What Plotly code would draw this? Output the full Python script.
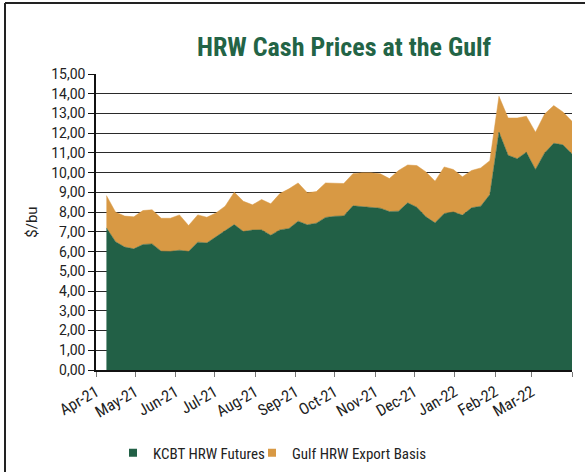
import pandas as pd
import plotly.graph_objects as go

# ---- data ----
week_start = "2021-04-09"
n_weeks = 52
futures = [7.20, 6.50, 6.23, 6.14, 6.36, 6.39, 6.02, 6.01, 6.07, 6.01, 6.48, 6.44, 6.75,
           7.07, 7.37, 7.02, 7.09, 7.10, 6.83, 7.10, 7.17, 7.54, 7.36, 7.44, 7.73, 7.79,
           7.81, 8.32, 8.28, 8.25, 8.20, 8.03, 8.05, 8.47, 8.25, 7.76, 7.46, 7.93, 8.01,
           7.85, 8.22, 8.30, 8.89, 12.06, 10.88, 10.71, 11.03, 10.16, 11.00, 11.49, 11.41, 10.95]
basis = [1.64, 1.50, 1.57, 1.62, 1.72, 1.73, 1.67, 1.68, 1.79, 1.31, 1.38, 1.30, 1.21,
         1.23, 1.64, 1.53, 1.28, 1.54, 1.59, 1.84, 2.01, 1.94, 1.62, 1.60, 1.75, 1.69,
         1.64, 1.63, 1.71, 1.74, 1.74, 1.67, 2.06, 1.92, 2.11, 2.28, 2.11, 2.36, 2.15,
         1.94, 1.89, 1.94, 1.72, 1.81, 1.89, 2.06, 1.83, 1.89, 1.97, 1.91, 1.67, 1.65]
month_ticks = ["2021-04-01", "2021-05-01", "2021-06-01", "2021-07-01", "2021-08-01",
               "2021-09-01", "2021-10-01", "2021-11-01", "2021-12-01", "2022-01-01",
               "2022-02-01", "2022-03-01", "2022-04-01"]
month_labels = ["Apr-21", "May-21", "Jun-21", "Jul-21", "Aug-21", "Sep-21", "Oct-21",
                "Nov-21", "Dec-21", "Jan-22", "Feb-22", "Mar-22", ""]
series_names = ["KCBT HRW Futures", "Gulf HRW Export Basis"]
title_text = "HRW Cash Prices at the Gulf"
y_title = "$/bu"

dates = pd.date_range(week_start, periods=n_weeks, freq="7D")

GREEN = "#226046"
ORANGE = "#D89944"
NARROW = "Roboto Condensed, Liberation Sans Narrow, Arial Narrow, Roboto, sans-serif"
WIDE = "Roboto, Liberation Sans, sans-serif"

fig = go.Figure()
for name, vals, col in [(series_names[0], futures, GREEN), (series_names[1], basis, ORANGE)]:
    fig.add_trace(go.Scatter(x=dates, y=vals, name=name, stackgroup="one", mode="lines",
                             line=dict(width=0.5, color=col), fillcolor=col,
                             showlegend=False, hoverinfo="x+y"))
for name, col, lg in [(series_names[0], GREEN, "legend"), (series_names[1], ORANGE, "legend2")]:
    fig.add_trace(go.Scatter(x=[None], y=[None], name=name, mode="markers", legend=lg,
                             marker=dict(symbol="square", size=8, color=col)))

W, H = 585, 472
L, R, T, B = 96, 13, 74, 102
pw, ph = W - L - R, H - T - B

def px_x(p):
    return (p - L) / pw

def px_y(p):
    return (H - B - p) / ph

legend_common = dict(orientation="h", xref="container", yref="container",
                     xanchor="left", y=1 - 453 / H, yanchor="middle",
                     font=dict(family=NARROW, size=15, color="#222222"),
                     itemwidth=30, bgcolor="rgba(0,0,0,0)")

fig.update_layout(
    width=W, height=H,
    margin=dict(l=L, r=R, t=T, b=B),
    paper_bgcolor="white", plot_bgcolor="white",
    separators=",.",
    font=dict(family=NARROW, size=15, color="#222222"),
    title=dict(text=title_text, x=344 / W, xanchor="center", xref="container",
               y=1 - 47 / H, yanchor="middle", yref="container",
               font=dict(family=NARROW, size=26, color="#236446", weight="bold")),
    xaxis=dict(type="date", range=["2021-04-01", "2022-04-01"],
               tickmode="array", tickvals=month_ticks, ticktext=month_labels,
               tickangle=-30, ticks="outside", ticklen=5, tickcolor="#777777",
               showline=True, linecolor="#111111", linewidth=1.5,
               showgrid=False, zeroline=False,
               tickfont=dict(family=NARROW, size=16, color="#222222")),
    yaxis=dict(range=[0, 15], dtick=1, tick0=0, tickformat=".2f",
               ticks="outside", ticklen=6, tickcolor="#111111",
               showline=True, linecolor="#111111", linewidth=1.5,
               showgrid=True, gridcolor="#2a2a2a", gridwidth=1, zeroline=False,
               tickfont=dict(family=WIDE, size=14, color="#222222"),
               title=dict(text=y_title, standoff=10,
                          font=dict(family=WIDE, size=15, color="#222222"))),
    legend=dict(x=113 / W, **legend_common),
    legend2=dict(x=252 / W, **legend_common),
    shapes=[
        dict(type="line", xref="paper", yref="paper",
             x0=px_x(5), x1=px_x(5), y0=px_y(3), y1=px_y(H + 5),
             line=dict(color="#222222", width=2)),
        dict(type="line", xref="paper", yref="paper",
             x0=px_x(5), x1=px_x(W + 5), y0=px_y(3), y1=px_y(3),
             line=dict(color="#222222", width=2)),
    ],
)

fig.write_html("out.html", config={"displayModeBar": False},
               post_script="document.body.style.margin='0px';")
